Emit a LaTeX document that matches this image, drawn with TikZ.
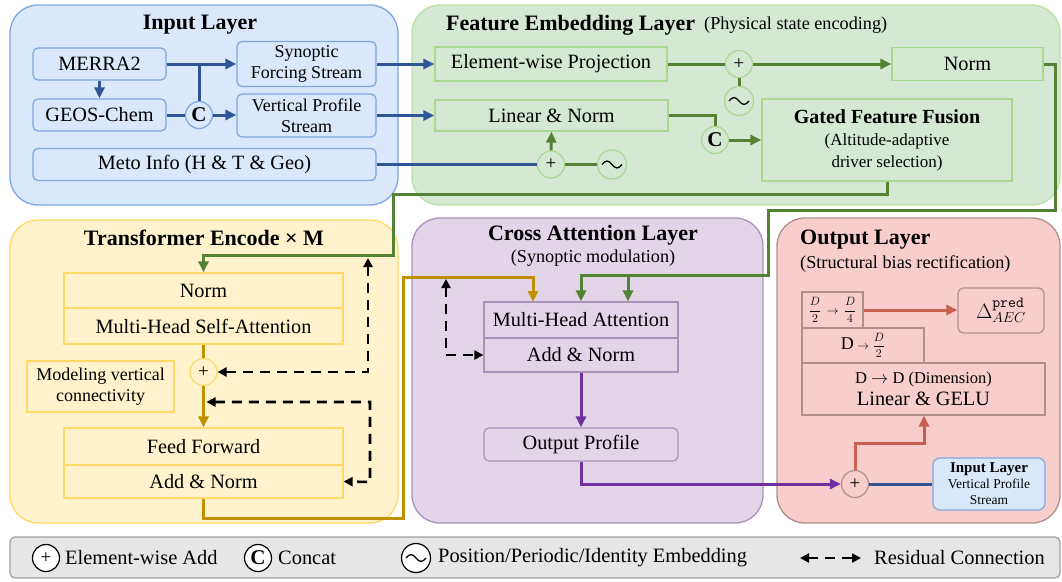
\documentclass[tikz,border=0pt]{standalone}
\usepackage{fontspec}
\setmainfont{Liberation Serif}
\usetikzlibrary{arrows.meta,calc}
\definecolor{cbluef}{HTML}{DAE8FC}
\definecolor{cblued}{HTML}{7EA6E0}
\definecolor{cblue}{HTML}{2F5597}
\definecolor{cgreenf}{HTML}{D5E8D4}
\definecolor{cgreend}{HTML}{A9D98F}
\definecolor{cgreen}{HTML}{548235}
\definecolor{cyellf}{HTML}{FFF2CC}
\definecolor{cyelld}{HTML}{FFD966}
\definecolor{cgold}{HTML}{BF9000}
\definecolor{cpurpf}{HTML}{E1D5E7}
\definecolor{cpurpd}{HTML}{A892BA}
\definecolor{cpurp}{HTML}{7030A0}
\definecolor{credf}{HTML}{F8CECC}
\definecolor{credd}{HTML}{B08E8B}
\definecolor{cred}{HTML}{C8604F}
\definecolor{clegf}{HTML}{E6E6E6}
\definecolor{clegd}{HTML}{A0A0A0}
\newcommand\bodyfs{\fontsize{20.3}{22}\selectfont}
\newcommand\titlefs{\fontsize{22}{24}\selectfont\bfseries}
\newcommand\subfs{\fontsize{18.2}{20}\selectfont}
\tikzset{
  >={Triangle[length=11pt,width=10pt]},
  panel/.style={rounded corners=28, line width=1.3pt, inner sep=0},
  title/.style={font=\titlefs, inner sep=0},
  subtitle/.style={font=\subfs, inner sep=0},
  boxbase/.style={line width=1.2pt, font=\bodyfs, inner sep=1pt, align=center},
  bbox/.style={boxbase, draw=cblued, fill=cbluef, rounded corners=5},
  gbox/.style={boxbase, draw=cgreend, fill=cgreenf},
  ybox/.style={boxbase, draw=cyelld, fill=cyellf},
  pbox/.style={boxbase, draw=cpurpd, fill=cpurpf},
  rbox/.style={boxbase, draw=credd, fill=credf},
  opcirc/.style={circle, line width=1.2pt, inner sep=0, minimum size=27},
  plusc/.style={opcirc, font=\fontsize{19}{19}\selectfont},
  catc/.style={opcirc, font=\fontsize{21}{21}\selectfont\bfseries},
  embc/.style={opcirc, minimum size=29, path picture={
      \draw[black, line width=1.3pt]
        ([xshift=-10pt]path picture bounding box.center)
        sin ([xshift=-5pt,yshift=3.5pt]path picture bounding box.center)
        cos (path picture bounding box.center)
        sin ([xshift=5pt,yshift=-3.5pt]path picture bounding box.center)
        cos ([xshift=10pt]path picture bounding box.center);}},
  ln/.style={line width=3pt},
  bl/.style={ln, draw=cblue},
  gr/.style={ln, draw=cgreen},
  go/.style={ln, draw=cgold},
  pu/.style={ln, draw=cpurp},
  rd/.style={ln, draw=cred},
  res/.style={draw=black, line width=2.6pt, dash pattern=on 10pt off 7pt,
    {Triangle[length=9pt,width=9pt]}-{Triangle[length=9pt,width=9pt]}},
  legtext/.style={font=\fontsize{20.4}{22}\selectfont, inner sep=0, anchor=west},
}
\begin{document}
\begin{tikzpicture}[x=1pt,y=-1pt]
\useasboundingbox (0,0) rectangle (1062,581);
% ---------- panels ----------
\node[panel, fill=cbluef, draw=cblued, minimum width=388, minimum height=200] (pin) at (204,105) {};
\node[panel, fill=cgreenf, draw=cgreend!80, minimum width=648, minimum height=200] (pfe) at (736,105) {};
\node[panel, fill=cyellf, draw=cyelld, minimum width=388, minimum height=303] (ptr) at (204,371.5) {};
\node[panel, fill=cpurpf, draw=cpurpd, minimum width=351, minimum height=305] (pca) at (587.5,370.5) {};
\node[panel, fill=credf, draw=credd, minimum width=283, minimum height=305] (pout) at (918.5,370.5) {};
\node[rounded corners=5, line width=1.2pt, fill=clegf, draw=clegd, minimum width=1050, minimum height=41, inner sep=0] (pleg) at (535,557.5) {};
% ---------- titles ----------
\node[title] (tin) at (200,25) {Input Layer};
\node[title, anchor=west] (tfe) at (446,25) {Feature Embedding Layer};
\node[subtitle, anchor=west] (tfes) at (704,25) {(Physical state encoding)};
\node[title] (ttr) at (204,238) {Transformer Encode × M};
\node[title] (tca) at (593,235) {Cross Attention Layer};
\node[subtitle] (tcas) at (593,258) {(Synoptic modulation)};
\node[title, anchor=west] (tout) at (800,240) {Output Layer};
\node[subtitle, anchor=west] (touts) at (800,264) {(Structural bias rectification)};
% ---------- input layer ----------
\node[bbox, minimum width=133, minimum height=32] (merra) at (99.5,64) {MERRA2};
\node[bbox, minimum width=133, minimum height=32] (geos) at (99.5,115) {GEOS-Chem};
\node[catc, draw=cblued, fill=cbluef] (c1) at (199,115) {C};
\node[bbox, minimum width=139, minimum height=45, font=\fontsize{18}{21}\selectfont] (syn) at (306.5,64) {Synoptic\\Forcing Stream};
\node[bbox, minimum width=139, minimum height=43, font=\fontsize{18}{21}\selectfont] (vert) at (306.5,115.5) {Vertical Profile\\Stream};
\node[bbox, minimum width=343, minimum height=32] (meto) at (204.5,164.5) {Meto Info (H \& T \& Geo)};
% ---------- feature embedding ----------
\node[gbox, minimum width=232, minimum height=34] (ewp) at (551,64) {Element-wise Projection};
\node[gbox, minimum width=151, minimum height=33] (norm1) at (967.5,64) {Norm};
\node[plusc, draw=cgreend, fill=cgreenf] (plus1) at (739,64) {+};
\node[embc, draw=cgreend, fill=cgreenf] (emb1) at (739,101) {};
\node[gbox, minimum width=233, minimum height=31] (ln) at (551.5,115.5) {Linear \& Norm};
\node[gbox, minimum width=250, minimum height=82] (gff) at (887,140) {{\fontsize{20}{24}\selectfont\bfseries Gated Feature Fusion}\\{\fontsize{17}{21}\selectfont (Altitude-adaptive}\\{\fontsize{17}{21}\selectfont driver selection)}};
\node[catc, draw=cgreend, fill=cgreenf] (c2) at (715,140) {C};
\node[plusc, draw=cgreend, fill=cgreenf] (plus2) at (551,164.5) {+};
\node[embc, draw=cgreend, fill=cgreenf] (emb2) at (612,164.5) {};
% ---------- transformer ----------
\node[ybox, minimum width=279, minimum height=35] (tnorm) at (203.5,290.5) {Norm};
\node[ybox, minimum width=279, minimum height=36] (mhsa) at (203.5,326) {Multi-Head Self-Attention};
\node[plusc, draw=cyelld, fill=cyellf] (plus3) at (203.5,372) {+};
\node[ybox, minimum width=147, minimum height=51, font=\fontsize{18}{21}\selectfont] (mvc) at (100.5,386.5) {Modeling vertical\\connectivity};
\node[ybox, minimum width=279, minimum height=37] (ff) at (203.5,446.5) {Feed Forward};
\node[ybox, minimum width=279, minimum height=33] (tan) at (203.5,481.5) {Add \& Norm};
% ---------- cross attention ----------
\node[pbox, minimum width=194, minimum height=36] (mha) at (581,320) {Multi-Head Attention};
\node[pbox, minimum width=194, minimum height=34] (can) at (581,355) {Add \& Norm};
\node[pbox, rounded corners=5, minimum width=194, minimum height=33] (op) at (581,444.5) {Output Profile};
% ---------- output layer ----------
\node[rbox, minimum width=61, minimum height=36, inner sep=0, font=\fontsize{12}{14}\selectfont] (b1) at (832.5,310) {$\displaystyle\frac{D}{2}\,\rightarrow\,\frac{D}{4}$};
\node[rbox, minimum width=122, minimum height=35, inner sep=0, font=\fontsize{13}{15}\selectfont] (b2) at (863,345.5) {{\fontsize{18}{20}\selectfont D} $\displaystyle\rightarrow\frac{D}{2}$};
\node[rbox, minimum width=243, minimum height=52] (b3) at (923.5,389) {{\fontsize{16.5}{20}\selectfont D $\rightarrow$ D (Dimension)}\\Linear \& GELU};
\node[rbox, rounded corners=6, minimum width=86, minimum height=45, font=\fontsize{22}{24}\selectfont] (delta) at (1001,310.5) {$\Delta^{\mathtt{pred}}_{AEC}$};
\node[plusc, draw=credd, fill=credf] (plus4) at (855,484) {+};
\node[bbox, rounded corners=7, minimum width=112, minimum height=52, font=\fontsize{13.5}{16}\selectfont] (il) at (989,484) {{\fontsize{15}{17}\selectfont\bfseries Input Layer}\\Vertical Profile\\Stream};
% ---------- blue connectors ----------
\draw[bl,->] (merra.east) -- (syn.west);
\draw[bl] (c1.north) -- (c1 |- merra.east);
\draw[bl,->] (merra.south) -- (geos.north);
\draw[bl] (geos.east) -- (c1.west);
\draw[bl,->] (c1.east) -- (c1.east -| vert.west);
\draw[bl,->] (syn.east) -- (syn.east -| ewp.west);
\draw[bl,->] (vert.east) -- (vert.east -| ln.west);
\draw[bl] (meto.east) -- (plus2.west);
\draw[bl] (plus4.east) -- (il.west);
% ---------- green connectors ----------
\draw[gr] (ewp.east) -- (plus1.west);
\draw[gr,->] (plus1.east) -- (norm1.west);
\draw[gr] (plus1.south) -- (emb1.north);
\draw[gr] (ln.east) -| (c2.north);
\draw[gr,->] (c2.east) -- (gff.west);
\draw[gr,->] (plus2.north) -- (ln.south);
\draw[gr] (emb2.west) -- (plus2.east);
\coordinate (ga) at (393,194);
\coordinate (gb) at (393,255);
\draw[gr,->] (gff.south) |- (ga) -- (gb) -| (tnorm.north);
\coordinate (na) at (1055,210);
\coordinate (nb) at (768,275);
\coordinate (nc) at (628,275);
\draw[gr,->] (norm1.east) -| (na) -| (nb) -| (mha.north);
\draw[gr,->] (nc) -- (nc |- mha.north);
% ---------- gold connectors ----------
\draw[go] (mhsa.south) -- (plus3.north);
\draw[go,->] (plus3.south) -- (ff.north);
\coordinate (ya) at (403,518);
\coordinate (yb) at (403,277);
\coordinate (yc) at (533,302);
\draw[go,->] (tan.south) |- (ya) -- (yb) -| (yc);
% ---------- purple connectors ----------
\draw[pu,->] (can.south) -- (op.north);
\draw[pu,->] (op.south) |- (plus4.west);
% ---------- red connectors ----------
\draw[rd,->] (b1.east) -- (b1.east -| delta.west);
\coordinate (ra) at (924,443);
\draw[rd,->] (plus4.north) |- (ra) -- (ra |- b3.south);
% ---------- residual connections ----------
\coordinate (d1) at (368,258);
\draw[res] (plus3.east) -| (d1);
\coordinate (d2) at (206.5,402);
\coordinate (d3) at (370,482);
\draw[res] (d2) -| (d3) -- (tan.east);
\coordinate (d4) at (446,279);
\draw[res] (d4) |- (can.west);
% ---------- legend ----------
\node[plusc, draw=black, fill=white] (lplus) at (46,558) {+};
\node[legtext] (lplust) at (65,558) {Element-wise Add};
\node[catc, draw=black, fill=white] (lcat) at (258,558) {C};
\node[legtext] (lcatt) at (278,558) {Concat};
\node[embc, draw=black, fill=white] (lemb) at (416,558) {};
\node[legtext] (lembt) at (438,558) {Position/Periodic/Identity Embedding};
\coordinate (lra) at (800,558);
\coordinate (lrb) at (861,558);
\draw[res] (lra) -- (lrb);
\node[legtext] (lrest) at (874,558) {Residual Connection};
\end{tikzpicture}
\end{document}
